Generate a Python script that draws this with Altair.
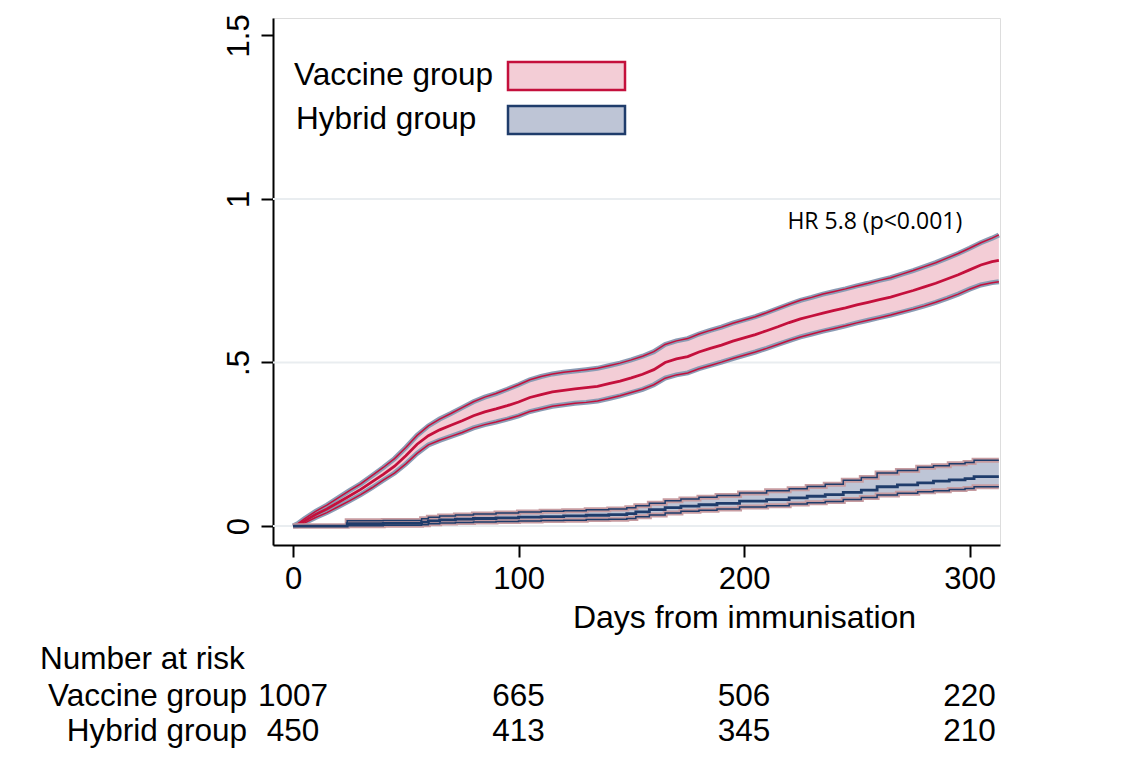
import altair as alt
import pandas as pd

# ---------------- data ----------------
vac_days = [0, 2, 5, 10, 15, 20, 25, 30, 35, 40, 45, 50, 55, 60, 65, 70, 75, 80, 85, 90,
            95, 100, 105, 110, 115, 120, 125, 130, 135, 140, 145, 150, 155, 160, 165, 170,
            175, 180, 185, 190, 195, 200, 205, 210, 215, 220, 225, 230, 235, 240, 245, 250,
            255, 260, 265, 270, 275, 280, 285, 290, 295, 300, 305, 310, 313]
vac_est = [0.0, 0.003, 0.015, 0.035, 0.052, 0.072, 0.092, 0.112, 0.135, 0.158, 0.183, 0.215,
           0.250, 0.276, 0.294, 0.308, 0.322, 0.337, 0.349, 0.358, 0.368, 0.379, 0.393, 0.402,
           0.410, 0.415, 0.419, 0.423, 0.427, 0.435, 0.443, 0.453, 0.464, 0.478, 0.500, 0.511,
           0.518, 0.532, 0.543, 0.553, 0.565, 0.575, 0.585, 0.597, 0.609, 0.622, 0.633, 0.642,
           0.651, 0.659, 0.667, 0.676, 0.684, 0.692, 0.700, 0.710, 0.720, 0.731, 0.742, 0.755,
           0.768, 0.783, 0.798, 0.808, 0.812]
vac_lo = [0.0, 0.001, 0.009, 0.026, 0.041, 0.059, 0.077, 0.096, 0.117, 0.140, 0.162, 0.190,
          0.222, 0.248, 0.262, 0.274, 0.286, 0.300, 0.310, 0.318, 0.327, 0.337, 0.350, 0.358,
          0.366, 0.371, 0.375, 0.378, 0.382, 0.390, 0.398, 0.408, 0.418, 0.432, 0.452, 0.462,
          0.468, 0.481, 0.491, 0.501, 0.512, 0.522, 0.532, 0.543, 0.555, 0.567, 0.578, 0.587,
          0.596, 0.604, 0.612, 0.621, 0.629, 0.637, 0.645, 0.654, 0.663, 0.673, 0.684, 0.696,
          0.709, 0.724, 0.737, 0.744, 0.747]
vac_hi = [0.0, 0.007, 0.022, 0.045, 0.064, 0.086, 0.108, 0.129, 0.154, 0.179, 0.206, 0.240,
          0.277, 0.306, 0.327, 0.344, 0.362, 0.380, 0.394, 0.405, 0.418, 0.432, 0.447, 0.457,
          0.465, 0.470, 0.474, 0.478, 0.482, 0.490, 0.498, 0.508, 0.519, 0.533, 0.555, 0.566,
          0.573, 0.587, 0.598, 0.608, 0.620, 0.630, 0.640, 0.652, 0.665, 0.678, 0.690, 0.699,
          0.709, 0.717, 0.725, 0.734, 0.742, 0.751, 0.759, 0.770, 0.781, 0.793, 0.805, 0.819,
          0.833, 0.849, 0.866, 0.880, 0.890]

hyb_days = [0, 24, 40, 57, 60, 65, 72, 80, 90, 100, 110, 120, 130, 140, 148, 152, 158, 165,
            172, 180, 188, 198, 210, 220, 228, 236, 244, 252, 259, 268, 277, 284, 291, 298,
            302, 313]
hyb_est = [0.0, 0.007, 0.008, 0.012, 0.016, 0.019, 0.021, 0.023, 0.025, 0.027, 0.029, 0.031,
           0.033, 0.035, 0.038, 0.043, 0.050, 0.056, 0.061, 0.065, 0.069, 0.076, 0.081, 0.086,
           0.091, 0.096, 0.103, 0.110, 0.120, 0.126, 0.132, 0.137, 0.141, 0.145, 0.151, 0.151]
hyb_lo = [0.0, 0.001, 0.002, 0.004, 0.007, 0.009, 0.011, 0.012, 0.014, 0.015, 0.017, 0.018,
          0.020, 0.021, 0.023, 0.028, 0.034, 0.040, 0.045, 0.048, 0.052, 0.058, 0.062, 0.067,
          0.071, 0.075, 0.081, 0.087, 0.095, 0.100, 0.105, 0.108, 0.112, 0.115, 0.120, 0.120]
hyb_hi = [0.0, 0.016, 0.017, 0.022, 0.027, 0.031, 0.034, 0.037, 0.040, 0.043, 0.045, 0.047,
          0.050, 0.052, 0.056, 0.062, 0.070, 0.077, 0.083, 0.088, 0.093, 0.101, 0.108, 0.114,
          0.121, 0.128, 0.140, 0.148, 0.162, 0.170, 0.180, 0.184, 0.190, 0.194, 0.201, 0.201]

risk_days = [0, 100, 200, 300]
risk_vaccine = [1007, 665, 506, 220]
risk_hybrid = [450, 413, 345, 210]
group_names = ["Vaccine group", "Hybrid group"]

x_ticks = [0, 100, 200, 300]
y_ticks = [0, 0.5, 1, 1.5]
grid_vals = [0, 0.5, 1]

hr_text = "HR 5.8 (p<0.001)"
hr_day = 258
hr_val = 0.93

# ---------------- styles ----------------
RED = "#c4103c"
RED_FILL = "#f3cdd6"
RED_EDGE = "#8b9cb5"
BLUE = "#1f3c6b"
BLUE_FILL = "#bec5d6"
BLUE_EDGE = "#c79ca1"
FONT = "Liberation Sans"

vac = pd.DataFrame({"day": vac_days, "est": vac_est, "lo": vac_lo, "hi": vac_hi})
hyb = pd.DataFrame({"day": hyb_days, "est": hyb_est, "lo": hyb_lo, "hi": hyb_hi})

xs = alt.Scale(domain=[-8.9, 313.5], nice=False, zero=False)
ys = alt.Scale(domain=[-0.058, 1.553], nice=False, zero=False)

xaxis = alt.Axis(values=x_ticks, title="Days from immunisation", grid=False,
                 domainColor="black", domainWidth=2, tickColor="black", tickWidth=2,
                 tickSize=12, labelFont=FONT, labelFontSize=31, labelColor="black",
                 labelPadding=7, labelFlush=False,
                 titleFont=FONT, titleFontSize=32, titleFontWeight="normal",
                 titleColor="black", titleX=471, titleY=72, titleBaseline="middle",
                 titleAnchor="start", titleAlign="center")
yaxis = alt.Axis(values=y_ticks, title=None, grid=False,
                 domainColor="black", domainWidth=2, tickColor="black", tickWidth=2,
                 tickSize=12, labelFont=FONT, labelFontSize=31, labelColor="black",
                 labelAngle=270, labelAlign="center", labelBaseline="bottom",
                 labelPadding=6, labelFlush=False,
                 labelExpr="datum.value == 0.5 ? '.5' : format(datum.value, '~g')")

X = alt.X("day:Q", scale=xs, axis=xaxis)


def Y(field):
    return alt.Y(f"{field}:Q", scale=ys, axis=yaxis)


grid = alt.Chart(pd.DataFrame({"g": grid_vals})).mark_rule(
    color="#e9edf0", strokeWidth=2).encode(y=Y("g"))


def curve_layers(df, fill, line, edge, interp):
    base = alt.Chart(df)
    band = base.mark_area(color=fill, opacity=1, interpolate=interp).encode(
        x=X, y=Y("hi"), y2="lo:Q")
    layers = [band]
    for f in ["hi", "lo"]:
        layers.append(base.mark_line(color=edge, strokeWidth=5, interpolate=interp)
                      .encode(x=X, y=Y(f)))
    for f in ["hi", "lo"]:
        layers.append(base.mark_line(color=line, strokeWidth=1.5, interpolate=interp)
                      .encode(x=X, y=Y(f)))
    layers.append(base.mark_line(color=line, strokeWidth=2.8, interpolate=interp)
                  .encode(x=X, y=Y("est")))
    return layers


vac_layers = curve_layers(vac, RED_FILL, RED, RED_EDGE, "linear")
hyb_layers = curve_layers(hyb, BLUE_FILL, BLUE, BLUE_EDGE, "step-after")

hr = alt.Chart(pd.DataFrame({"day": [hr_day], "v": [hr_val], "t": [hr_text]})).mark_text(
    font="Open Sans", fontSize=23, color="black", align="center", baseline="middle"
).encode(x=X, y=Y("v"), text="t:N")

# legend (drawn manually to put the key box to the right of the label)
one = pd.DataFrame({"k": [0]})
LFS = 31.5
leg = []
leg.append(alt.Chart(one).mark_rect(fill=RED_FILL, stroke=RED, strokeWidth=2.5).encode(
    x=alt.value(235), x2=alt.value(352), y=alt.value(44), y2=alt.value(72)))
leg.append(alt.Chart(one).mark_rect(fill=BLUE_FILL, stroke=BLUE, strokeWidth=2.5).encode(
    x=alt.value(235), x2=alt.value(352), y=alt.value(88), y2=alt.value(116)))
leg.append(alt.Chart(pd.DataFrame({"t": [group_names[0]]})).mark_text(
    font=FONT, fontSize=LFS, color="black", align="left", baseline="middle").encode(
    x=alt.value(21), y=alt.value(58), text="t:N"))
leg.append(alt.Chart(pd.DataFrame({"t": [group_names[1]]})).mark_text(
    font=FONT, fontSize=LFS, color="black", align="left", baseline="middle").encode(
    x=alt.value(23), y=alt.value(102), text="t:N"))

# number at risk table
risk = pd.DataFrame({"day": risk_days, "vac": risk_vaccine, "hyb": risk_hybrid})
TFS = 31.5
tab = []
tab.append(alt.Chart(pd.DataFrame({"t": ["Number at risk"]})).mark_text(
    font=FONT, fontSize=TFS, color="black", align="left", baseline="middle").encode(
    x=alt.value(-233), y=alt.value(642), text="t:N"))
tab.append(alt.Chart(pd.DataFrame({"t": [group_names[0]]})).mark_text(
    font=FONT, fontSize=TFS, color="black", align="right", baseline="middle").encode(
    x=alt.value(-26), y=alt.value(679), text="t:N"))
tab.append(alt.Chart(pd.DataFrame({"t": [group_names[1]]})).mark_text(
    font=FONT, fontSize=TFS, color="black", align="right", baseline="middle").encode(
    x=alt.value(-26), y=alt.value(714), text="t:N"))
tab.append(alt.Chart(risk).mark_text(
    font=FONT, fontSize=TFS, color="black", align="center", baseline="middle").encode(
    x=X, y=alt.value(679), text="vac:Q"))
tab.append(alt.Chart(risk).mark_text(
    font=FONT, fontSize=TFS, color="black", align="center", baseline="middle").encode(
    x=X, y=alt.value(714), text="hyb:Q"))

chart = alt.layer(grid, *vac_layers, *hyb_layers, hr, *leg, *tab).properties(
    width=727, height=527,
    autosize=alt.AutoSizeParams(type="none"),
    padding={"left": 265, "top": 10, "right": 120, "bottom": 204},
).configure_view(stroke=None).configure(background="white")

chart.save("out.html", embed_options={"renderer": "svg", "actions": False})
